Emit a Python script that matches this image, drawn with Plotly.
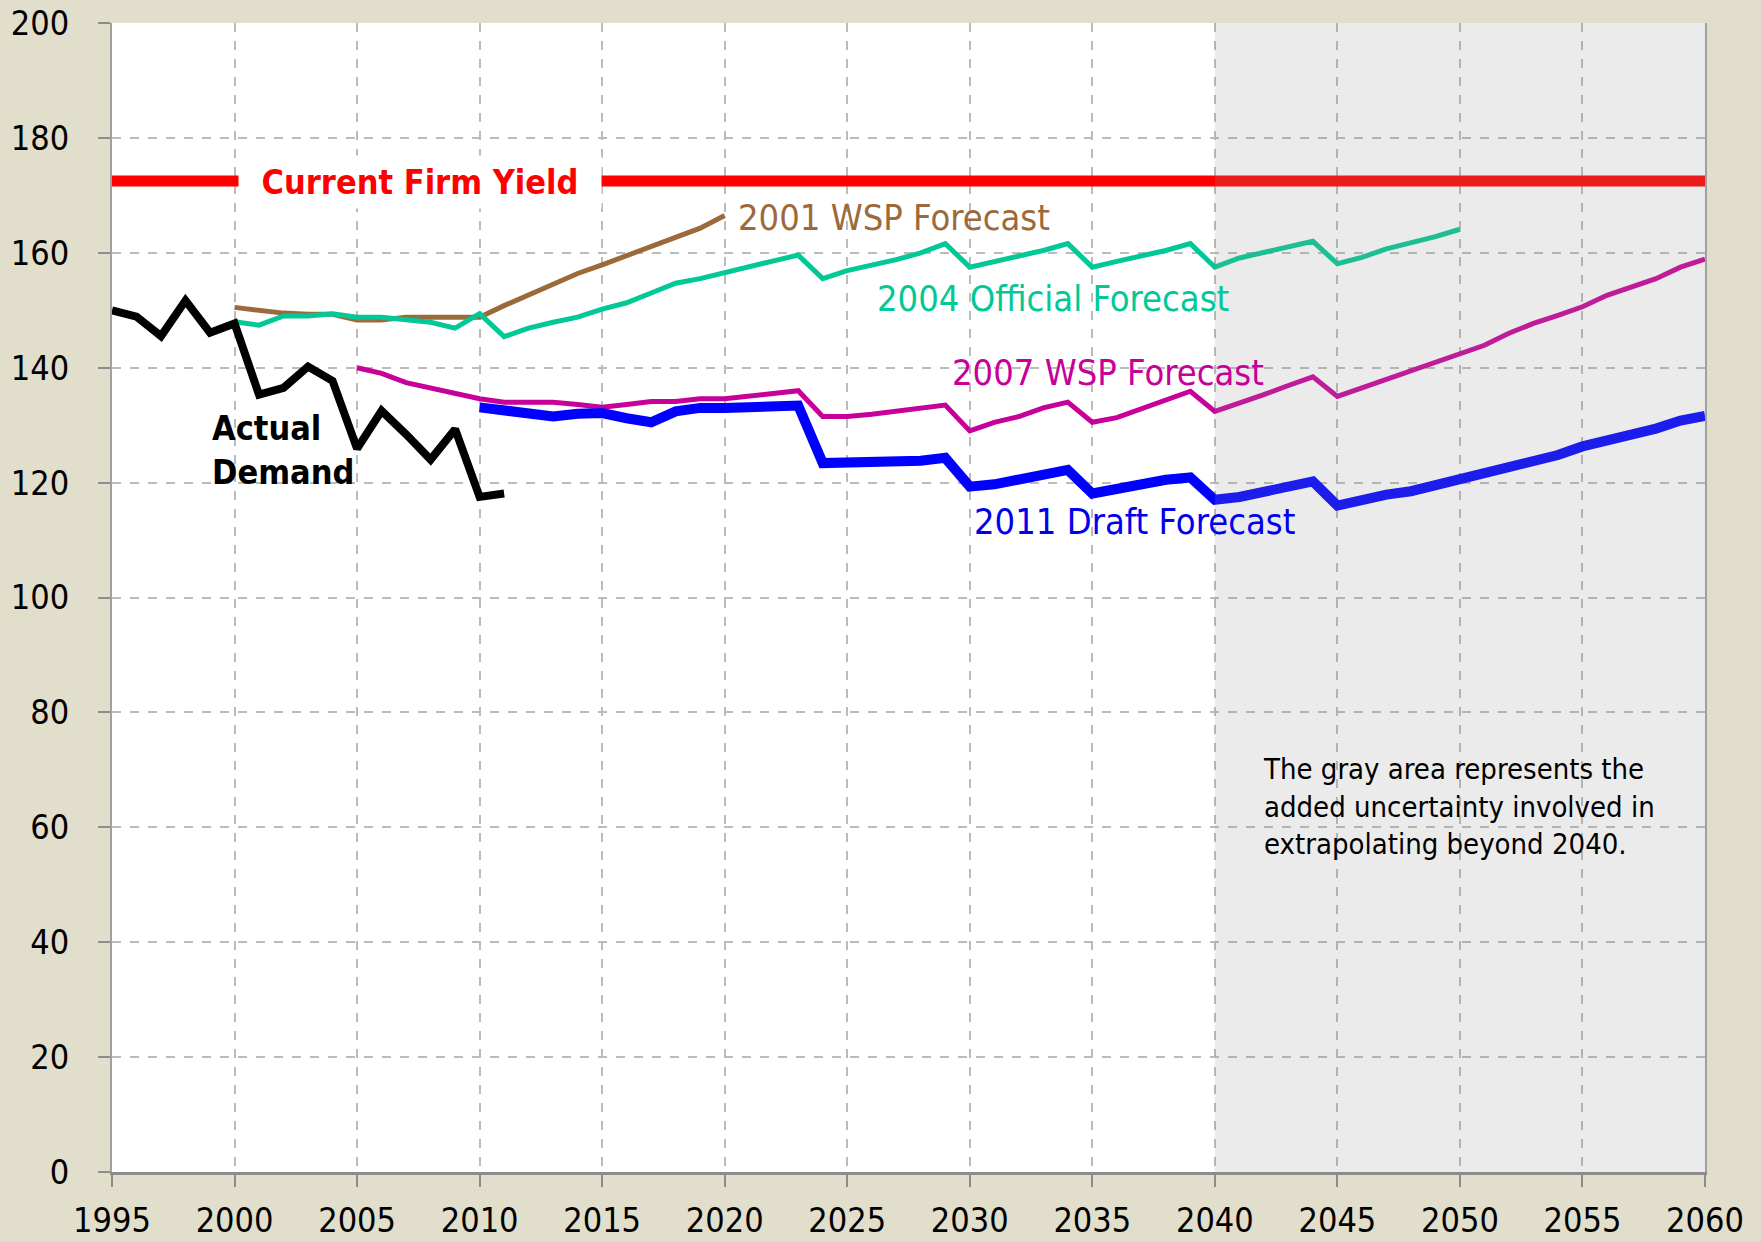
import plotly.graph_objects as go

# ---------------- data ----------------
actual_years = list(range(1995, 2012))
actual_demand = [150.0, 148.9, 145.5, 151.7, 146.1, 147.7, 135.3, 136.5, 140.2, 137.7,
                 125.9, 132.5, 128.4, 124.0, 129.3, 117.5, 118.1]

wsp2001_years = list(range(2000, 2021))
wsp2001 = [150.5, 150.0, 149.5, 149.3, 149.3, 148.3, 148.3, 148.8, 148.8, 148.8,
           148.8, 150.8, 152.7, 154.4, 156.4, 157.9, 159.5, 161.3, 162.8, 164.3, 166.5]

official2004_years = list(range(2000, 2051))
official2004 = [148.0, 147.4, 149.0, 149.0, 149.4, 148.8, 148.8, 148.3, 147.9, 146.9,
                149.4, 145.4, 146.9, 147.9, 148.8, 150.2, 151.3, 153.0, 154.7, 155.5,
                156.6, 157.7, 158.6, 159.6, 155.5, 156.9, 157.8, 158.8, 160.0, 161.6,
                157.5, 158.4, 159.4, 160.4, 161.6, 157.5, 158.5, 159.4, 160.4, 161.6,
                157.5, 159.1, 160.0, 161.0, 162.0, 158.1, 159.2, 160.7, 161.7, 162.8, 164.1]

wsp2007_years = list(range(2005, 2061))
wsp2007 = [140.0, 139.0, 137.4, 136.5, 135.6, 134.6, 134.0, 134.0, 134.0, 133.6,
           133.1, 133.6, 134.1, 134.1, 134.6, 134.6, 135.0, 135.5, 136.0, 131.5,
           131.5, 131.9, 132.4, 132.9, 133.5, 129.0, 130.5, 131.5, 133.0, 134.0,
           130.5, 131.3, 132.8, 134.4, 135.9, 132.4, 133.8, 135.3, 136.9, 138.4,
           135.0, 136.5, 138.1, 139.5, 141.0, 142.5, 143.9, 146.0, 147.7, 149.1,
           150.6, 152.6, 154.1, 155.5, 157.5, 158.9]

draft2011_years = list(range(2010, 2061))
draft2011 = [133.1, 132.5, 132.0, 131.5, 132.0, 132.1, 131.2, 130.5, 132.4, 133.0,
             133.0, 133.0, 133.4, 133.4, 123.4, 123.4, 123.8, 123.8, 123.8, 124.3,
             119.3, 119.7, 120.6, 121.1, 122.2, 118.1, 119.0, 119.5, 120.5, 120.9,
             117.0, 117.5, 118.4, 119.6, 120.2, 116.0, 117.0, 117.9, 118.5, 119.5,
             120.5, 121.5, 122.5, 123.6, 124.8, 126.3, 127.3, 128.3, 129.4, 130.8, 131.6]

firm_yield_years = [1995, 2060]
firm_yield = [172.5, 172.5]

x_ticks = list(range(1995, 2061, 5))
y_ticks = list(range(0, 201, 20))

# ---------------- styling ----------------
NARROW = "Liberation Sans Narrow, Arial Narrow, DejaVu Sans Condensed, sans-serif"
BROWN = "#9C6A3A"
TEAL = "#00C896"
MAGENTA = "#C8009A"
BLUE = "#0000FF"
RED = "#FF0000"

fig = go.Figure()

fig.add_trace(go.Scatter(x=firm_yield_years, y=firm_yield, mode="lines",
                         line=dict(color=RED, width=11), hoverinfo="skip"))
fig.add_trace(go.Scatter(x=wsp2001_years, y=wsp2001, mode="lines",
                         line=dict(color=BROWN, width=5)))
fig.add_trace(go.Scatter(x=official2004_years, y=official2004, mode="lines",
                         line=dict(color=TEAL, width=5)))
fig.add_trace(go.Scatter(x=wsp2007_years, y=wsp2007, mode="lines",
                         line=dict(color=MAGENTA, width=5)))
fig.add_trace(go.Scatter(x=draft2011_years, y=draft2011, mode="lines",
                         line=dict(color=BLUE, width=10)))
fig.add_trace(go.Scatter(x=actual_years, y=actual_demand, mode="lines",
                         line=dict(color="black", width=8)))

# gray uncertainty area (semi-transparent overlay above the lines)
fig.add_shape(type="rect", xref="x", yref="y", x0=2040, x1=2060, y0=0, y1=200,
              fillcolor="rgba(150,150,150,0.19)", line=dict(width=0), layer="above")

fig.add_annotation(x=2007.55, y=172.3, xref="x", yref="y",
                   text="<b>Current Firm Yield</b>", showarrow=False,
                   font=dict(family=NARROW, size=34, color=RED),
                   bgcolor="white", width=362, height=52, borderpad=0)
fig.add_annotation(x=2020.45, y=166.2, xref="x", yref="y", xanchor="left",
                   text="2001 WSP Forecast", showarrow=False,
                   font=dict(family=NARROW, size=36, color=BROWN))
fig.add_annotation(x=2026.15, y=152.1, xref="x", yref="y", xanchor="left",
                   text="2004 Official Forecast", showarrow=False,
                   font=dict(family=NARROW, size=36, color=TEAL))
fig.add_annotation(x=2029.2, y=139.2, xref="x", yref="y", xanchor="left",
                   text="2007 WSP Forecast", showarrow=False,
                   font=dict(family=NARROW, size=36, color=MAGENTA))
fig.add_annotation(x=2030.1, y=113.2, xref="x", yref="y", xanchor="left",
                   text="2011 Draft Forecast", showarrow=False,
                   font=dict(family=NARROW, size=36, color="#0000EE"))
fig.add_annotation(x=1999.0, y=125.7, xref="x", yref="y", xanchor="left", align="left",
                   text="<b>Actual<br>Demand</b>", showarrow=False,
                   font=dict(family=NARROW, size=34, color="black"))
fig.add_annotation(x=2041.9, y=63.6, xref="x", yref="y", xanchor="left", align="left",
                   text="The gray area represents the<br>added uncertainty involved in<br>extrapolating beyond 2040.",
                   showarrow=False,
                   font=dict(family="DejaVu Sans Condensed, DejaVu Sans, sans-serif",
                             size=29, color="black"))

fig.update_layout(
    width=1761, height=1242,
    margin=dict(l=112, r=56, t=23, b=70, autoexpand=False),
    paper_bgcolor="#E1DECB",
    plot_bgcolor="white",
    showlegend=False,
)
fig.update_xaxes(range=[1995, 2060], tickvals=x_ticks, ticktext=[str(v) for v in x_ticks],
                 automargin=False,
                 showgrid=True, gridcolor="#BBBBBB", gridwidth=2, griddash="dash",
                 showline=True, linecolor="#8C8C8C", linewidth=3,
                 ticks="outside", ticklen=12, tickwidth=2, tickcolor="#8C8C8C",
                 ticklabelstandoff=4,
                 tickfont=dict(family=NARROW, size=34, color="black"), zeroline=False)
fig.update_yaxes(range=[0, 200], tickvals=y_ticks, ticktext=[str(v) for v in y_ticks],
                 automargin=False,
                 showgrid=True, gridcolor="#BBBBBB", gridwidth=2, griddash="dash",
                 showline=True, linecolor="#A0A0A0", linewidth=2, mirror=True,
                 ticks="outside", ticklen=12, tickwidth=2, tickcolor="#8C8C8C",
                 ticklabelstandoff=22,
                 tickfont=dict(family=NARROW, size=34, color="black"), zeroline=False)

fig.write_html("out.html", config={"displayModeBar": False},
               post_script="document.body.style.margin='0';")
